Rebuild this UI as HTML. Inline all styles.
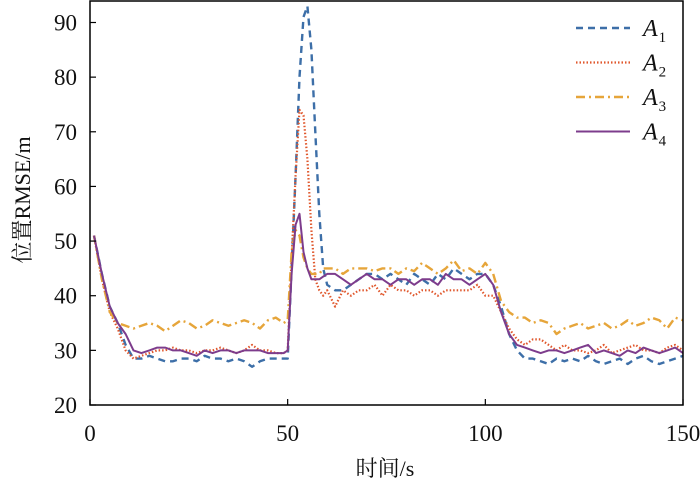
<!DOCTYPE html>
<html><head><meta charset="utf-8"><style>
body{margin:0;background:#fff;width:700px;height:484px;overflow:hidden}
</style></head><body>
<svg id="chart" width="700" height="484" viewBox="0 0 700 484" xmlns="http://www.w3.org/2000/svg" font-family="'Liberation Serif','Noto Serif CJK SC',serif"></svg>
<script>
const times=[1,3,5,7,9,11,13,15,17,19,21,23,25,27,29,31,33,35,37,39,41,43,45,47,49,
50,51,52,53,54,55,56,57,58,59,60,
62,64,66,68,70,72,74,76,78,80,82,84,86,88,90,92,94,96,98,100,102,104,106,108,110,112,114,116,118,120,122,124,126,128,130,132,134,136,138,140,142,144,146,148,150];
const seriesA1=[51,44,38,35,31,28.5,28.5,29,28.5,28,28,28.5,28.5,28,29,28.5,28.5,28,28.5,28,27,28,28.5,28.5,28.5,
28.5,45,62,80,91,93,85,70,55,45,42,
41,41,42,43,44,44,43,44,43,42,44,43,42,44,43,45,44,43,44,44,
42,38,33,30,
28.5,28.5,28,27.5,28.5,28,28.5,28,29,28,27.5,28,28.5,27.5,28.5,29,28,27.5,28,28.5,29];
const seriesA2=[51,43,37,34,30,28.5,29,29.5,30,30,30.5,30,30,29.5,30,30,30.5,30,29.5,30,31,30,30,29.5,29.5,
30,47,62,74,73,65,52,43,41,40,41,
38,41,40,41,41,42,40,42,41,41,40,41,41,40,41,41,41,41,42,40,
40,37,34,32,
31,32,32,31,30,31,30,30,29.5,30,31,29.5,30,30.5,31,30,30,29.5,30.5,31,30];
const seriesA3=[51,43,37,35,34.5,34,34.5,35,34.5,33.5,34.5,35.5,35,34,34.5,35.5,35,34.5,35,35.5,35,34,35.5,36,35,
35.5,48,52,51,47,45,44,44,44,45,45,
45,44,45,45,45,44.5,45,45,44,45,44.5,46,45,44,45,46.5,44.5,45,44,46,
44,39,37,36,
36,35,35.5,35,33,34,34.5,35,34,34.5,35,34,34.5,35.5,34.5,35,36,35.5,34,36,35.5];
const seriesA4=[51,44,38,35,33,30,29.5,30,30.5,30.5,30,30,29.5,29,30,29.5,30,30,29.5,30,30,30,29.5,29.5,29.5,
30,44,53,55,48,45,43,43,43,43.5,44,
44,43,42,43,44,43,43,42,43,43,42,43,43,42,44,43,43,42,43,44,
42,37,33,31,
30.5,30,29.5,30,30,29.5,30,30.5,31,29.5,30,29.5,29,30,29.5,30.5,30,29.5,30,30.5,29.5];
const xTicks=[0,50,100,150];
const yTicks=[20,30,40,50,60,70,80,90];
const seriesNames=["A1","A2","A3","A4"];

const svg=document.getElementById('chart');
const NS='http://www.w3.org/2000/svg';
const FONT="Liberation Serif, Noto Serif CJK SC, serif";
const L=90,R=683,T=1,B=405;
const xS=v=>L+(v-0)/150*(R-L);
const yS=v=>405-(v-20)/70*(405-22.5);
function mk(tag,attrs){const e=document.createElementNS(NS,tag);for(const k in attrs)e.setAttribute(k,attrs[k]);svg.appendChild(e);return e;}

const defs=mk('defs',{});
const cp=document.createElementNS(NS,'clipPath');cp.setAttribute('id','clip');
const cr=document.createElementNS(NS,'rect');cr.setAttribute('x',L);cr.setAttribute('y',T);cr.setAttribute('width',R-L);cr.setAttribute('height',B-T);
cp.appendChild(cr);defs.appendChild(cp);

const styles=[
 {c:'#3d6fa8',d:'7,5',w:2.4},
 {c:'#e0572c',d:'1.5,2',w:2.2},
 {c:'#e6a53a',d:'9,4,2,4',w:2.4},
 {c:'#7d3c8c',d:'',w:2}
];
const all=[seriesA1,seriesA2,seriesA3,seriesA4];
all.forEach((s,i)=>{
  const n=Math.min(s.length,times.length);
  let d='';
  for(let j=0;j<n;j++){d+=(j?'L':'M')+xS(times[j]).toFixed(1)+','+yS(s[j]).toFixed(1);}
  const p=mk('path',{d:d,fill:'none',stroke:styles[i].c,'stroke-width':styles[i].w,'stroke-dasharray':styles[i].d,'stroke-linejoin':'round','clip-path':'url(#clip)'});
  
  
});

const frame=mk('rect',{x:L,y:T,width:R-L,height:B-T,fill:'none',stroke:'#000','stroke-width':1.5});



xTicks.forEach(v=>{
  const x=xS(v);
  const t=mk('line',{x1:x,y1:B,x2:x,y2:B-6,stroke:'#000','stroke-width':1.2});
  
  
  const tx=mk('text',{x:x,y:441,'font-size':23,'text-anchor':'middle',fill:'#111','font-family':FONT});
  tx.textContent=v;
  
  
});
yTicks.forEach(v=>{
  const y=yS(v);
  const t=mk('line',{x1:L,y1:y,x2:L+6,y2:y,stroke:'#000','stroke-width':1.2});
  
  
  const tx=mk('text',{x:77,y:y+8,'font-size':23,'text-anchor':'end',fill:'#111','font-family':FONT});
  tx.textContent=v;
  
  
});
const xt=mk('text',{x:385,y:476,'font-size':22,'text-anchor':'middle',fill:'#111','font-family':FONT});
xt.textContent='时间/s';


const yt=mk('text',{x:0,y:0,'font-size':22,'text-anchor':'middle',fill:'#111','font-family':FONT,transform:'translate(30,200) rotate(-90)'});
yt.textContent='位置RMSE/m';



seriesNames.forEach((nm,i)=>{
  const y=28+i*34.5;
  const g=document.createElementNS(NS,'g');svg.appendChild(g);
  
  
  const ln=document.createElementNS(NS,'line');
  [['x1',576],['y1',y],['x2',630],['y2',y],['stroke',styles[i].c],['stroke-width',styles[i].w],['stroke-dasharray',styles[i].d]].forEach(a=>ln.setAttribute(a[0],a[1]));
  g.appendChild(ln);
  const tx=document.createElementNS(NS,'text');
  tx.setAttribute('x',643);tx.setAttribute('y',y+8);tx.setAttribute('font-size',24);tx.setAttribute('font-style','italic');tx.setAttribute('fill','#111');tx.setAttribute('font-family',FONT);
  tx.textContent='A';
  const sub=document.createElementNS(NS,'tspan');
  sub.setAttribute('font-size',15);sub.setAttribute('font-style','normal');sub.setAttribute('dy',6);sub.setAttribute('dx',1);
  sub.textContent=nm.slice(1);
  tx.appendChild(sub);g.appendChild(tx);
});
</script>
</body></html>
